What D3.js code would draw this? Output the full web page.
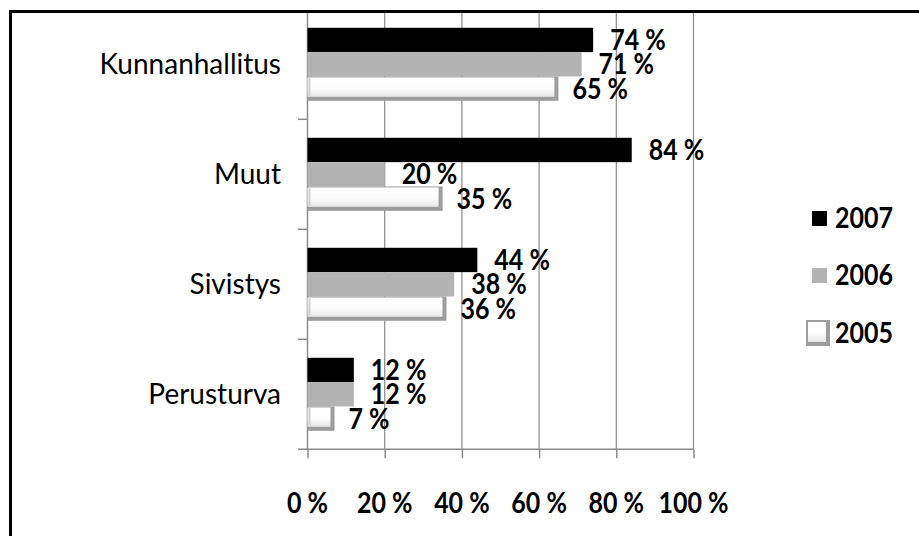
<!DOCTYPE html>
<html>
<head>
<meta charset="utf-8">
<script src="https://cdn.jsdelivr.net/npm/d3@7"></script>
<style>
  body { margin: 0; background: #fff; }
  svg { display: block; }
  .cat { font-family: Lato, "Open Sans", sans-serif; font-size: 28px; fill: #000; }
  .num { font-family: Lato, "Open Sans", sans-serif; font-size: 25px; font-weight: bold; fill: #000; }
</style>
</head>
<body>
<div id="chart"></div>
<script>

// data
var categories = ["Kunnanhallitus", "Muut", "Sivistys", "Perusturva"];
var years = ["2007", "2006", "2005"];
var values2007 = [0.74, 0.84, 0.44, 0.12];
var values2006 = [0.71, 0.20, 0.38, 0.12];
var values2005 = [0.65, 0.35, 0.36, 0.07];
var xTicks = [0, 0.2, 0.4, 0.6, 0.8, 1.0];

var seriesValues = { "2007": values2007, "2006": values2006, "2005": values2005 };

var width = 919, height = 536;

var svg = d3.select("#chart").append("svg")
    .attr("width", width)
    .attr("height", height);

// gradient for the bevelled 2005 bars
var defs = svg.append("defs");
var grad = defs.append("linearGradient")
    .attr("id", "bevel")
    .attr("x1", 0).attr("y1", 0).attr("x2", 0).attr("y2", 1);
grad.append("stop").attr("offset", "0%").attr("stop-color", "#ffffff");
grad.append("stop").attr("offset", "60%").attr("stop-color", "#fbfbfb");
grad.append("stop").attr("offset", "100%").attr("stop-color", "#e6e6e6");

// scales
var x = d3.scaleLinear()
    .domain([0, 1])
    .range([307.5, 693.5]);

var y = d3.scaleBand()
    .domain(categories)
    .range([9.3, 449.3]);

var ySub = d3.scaleBand()
    .domain(years)
    .range([0, y.bandwidth()])
    .paddingInner(0)
    .paddingOuter(0.76);

var axisColor = "#8a8a8a";
var chartBottom = y.range()[1];

// vertical gridlines
svg.append("g")
    .selectAll("line")
    .data(xTicks.slice(1))
    .enter()
    .append("line")
    .attr("x1", d => x(d))
    .attr("x2", d => x(d))
    .attr("y1", 10)
    .attr("y2", chartBottom)
    .attr("stroke", axisColor)
    .attr("stroke-width", 1.2);

// bottom axis
var xAxis = d3.axisBottom(x)
    .tickValues(xTicks)
    .tickSize(9)
    .tickFormat("");

var xAxisG = svg.append("g")
    .attr("transform", `translate(0, ${chartBottom})`)
    .call(xAxis);
xAxisG.select(".domain").remove();
xAxisG.selectAll("line").attr("stroke", axisColor).attr("stroke-width", 1.5);
xAxisG.append("line")
    .attr("x1", 298).attr("x2", x(1))
    .attr("y1", 0).attr("y2", 0)
    .attr("stroke", axisColor).attr("stroke-width", 1.5);

// tick labels
svg.append("g")
    .selectAll("text")
    .data(xTicks)
    .enter()
    .append("text")
    .attr("class", "num")
    .attr("text-anchor", "middle")
    .attr("transform", d => `translate(${x(d)}, 513) scale(1, 1.14)`)
    .text(d => Math.round(d * 100) + " %");

// left axis with separators between categories
svg.append("line")
    .attr("x1", x(0)).attr("x2", x(0))
    .attr("y1", 10).attr("y2", chartBottom)
    .attr("stroke", axisColor).attr("stroke-width", 1.5);

svg.append("g")
    .selectAll("line")
    .data(categories.slice(1))
    .enter()
    .append("line")
    .attr("x1", 298).attr("x2", x(0))
    .attr("y1", d => y(d))
    .attr("y2", d => y(d))
    .attr("stroke", axisColor)
    .attr("stroke-width", 1.5);

// category labels
svg.append("g")
    .selectAll("text")
    .data(categories)
    .enter()
    .append("text")
    .attr("class", "cat")
    .attr("text-anchor", "end")
    .attr("x", 281)
    .attr("y", d => y(d) + y.bandwidth() / 2 + 10)
    .text(d => d);

// bars
var shadow = 4;
years.forEach(function(year) {
    var vals = seriesValues[year];
    var g = svg.append("g").attr("class", "series-" + year);

    categories.forEach(function(cat, i) {
        var v = vals[i];
        var y0 = y(cat) + ySub(year);
        var h = ySub.bandwidth();
        var x0 = x(0);
        var w = x(v) - x(0);
        var labelX;

        if (year === "2005") {
            // bevelled white bar with grey shadow on right and bottom
            g.append("rect")
                .attr("x", x0).attr("y", y0)
                .attr("width", w).attr("height", h)
                .attr("fill", "#9c9c9c");
            g.append("rect")
                .attr("x", x0).attr("y", y0 + 1)
                .attr("width", w - shadow).attr("height", h - shadow - 1)
                .attr("fill", "url(#bevel)");
            g.append("rect")
                .attr("x", x0 + 1).attr("y", y0 + 1)
                .attr("width", 2).attr("height", h - shadow - 1)
                .attr("fill", "#d0d0d0");
            labelX = x0 + w + 14;
        } else {
            g.append("rect")
                .attr("x", x0).attr("y", y0)
                .attr("width", w).attr("height", h)
                .attr("fill", year === "2007" ? "#000000" : "#b3b3b3");
            labelX = x0 + w + 17;
        }

        g.append("text")
            .attr("class", "num")
            .attr("transform", `translate(${labelX}, ${y0 + h / 2 + 10}) scale(1, 1.14)`)
            .text(Math.round(v * 100) + " %");
    });
});

// legend
var legendY = { "2007": 218, "2006": 275, "2005": 333 };
var legend = svg.append("g");
years.forEach(function(year) {
    var cy = legendY[year];
    if (year === "2005") {
        legend.append("rect")
            .attr("x", 806).attr("y", cy - 13)
            .attr("width", 24).attr("height", 26)
            .attr("fill", "#9c9c9c");
        legend.append("rect")
            .attr("x", 808).attr("y", cy - 11)
            .attr("width", 18).attr("height", 20)
            .attr("fill", "url(#bevel)");
    } else {
        legend.append("rect")
            .attr("x", 812).attr("y", cy - 7)
            .attr("width", 15).attr("height", 15)
            .attr("fill", year === "2007" ? "#000000" : "#b3b3b3");
    }
    legend.append("text")
        .attr("class", "num")
        .attr("transform", `translate(835, ${cy + 10}) scale(1, 1.14)`)
        .text(year);
});

// frame: only top and left edges show
svg.append("line")
    .attr("x1", 9).attr("x2", width)
    .attr("y1", 11.5).attr("y2", 11.5)
    .attr("stroke", "#000").attr("stroke-width", 3);
svg.append("line")
    .attr("x1", 10.5).attr("x2", 10.5)
    .attr("y1", 10).attr("y2", height)
    .attr("stroke", "#000").attr("stroke-width", 3);

</script>
</body>
</html>
